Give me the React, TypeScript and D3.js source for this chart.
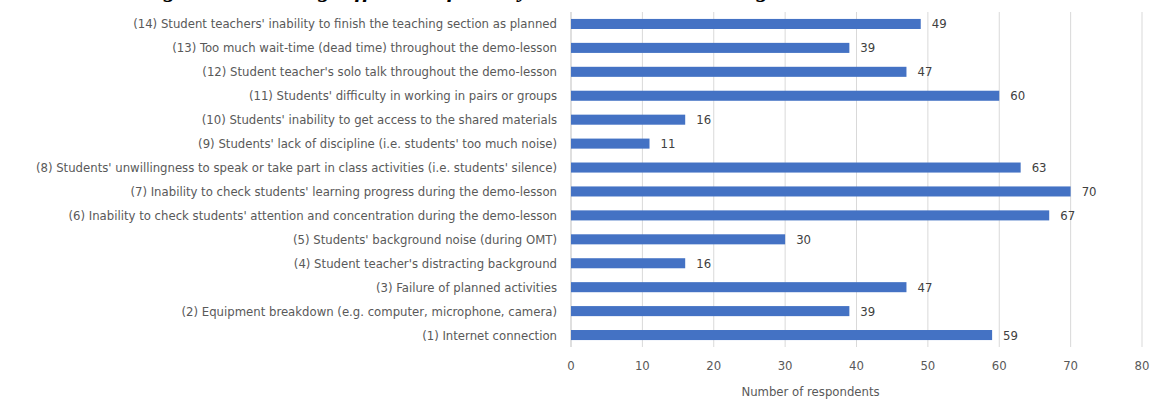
import React from "react";
import * as d3 from "d3";

const categories = [
  "(1) Internet connection",
  "(2) Equipment breakdown (e.g. computer, microphone, camera)",
  "(3) Failure of planned activities",
  "(4) Student teacher's distracting background",
  "(5) Students' background noise (during OMT)",
  "(6) Inability to check students' attention and concentration during the demo-lesson",
  "(7) Inability to check students' learning progress during the demo-lesson",
  "(8) Students' unwillingness to speak or take part in class activities (i.e. students' silence)",
  "(9) Students' lack of discipline (i.e. students' too much noise)",
  "(10) Students' inability to get access to the shared materials",
  "(11) Students' difficulty in working in pairs or groups",
  "(12) Student teacher's solo talk throughout the demo-lesson",
  "(13) Too much wait-time (dead time) throughout the demo-lesson",
  "(14) Student teachers' inability to finish the teaching section as planned",
];
const values = [59, 39, 47, 16, 30, 67, 70, 63, 11, 16, 60, 47, 39, 49];
const xTicks = [0, 10, 20, 30, 40, 50, 60, 70, 80];
const xTitle = "Number of respondents";
const title = "Figure 6. Teaching difficulties faced by student teachers during the demo-lessons in OMT";

export default function App() {
  const W = 1154, H = 400;
  const left = 571, right = 1142, top = 12, bottom = 347;
  const x = d3.scaleLinear().domain([0, 80]).range([left, right]);
  const y = d3.scaleBand<string>().domain([...categories].reverse()).range([top, bottom]).paddingInner(0.58).paddingOuter(0.29);
  const font = "'Liberation Sans Narrow', 'DejaVu Sans Condensed', 'Roboto', sans-serif";
  return (
    <svg width={W} height={H} style={{ position: "absolute", left: 0, top: 0, background: "#fff" }}>
      <text x={585} y={-3} textAnchor="middle" fontFamily="'Liberation Serif', serif" fontWeight="bold" fontStyle="italic" fontSize={24} fill="#000">{title}</text>
      {xTicks.map((t) => (
        <g key={t}>
          <line x1={x(t)} x2={x(t)} y1={top} y2={bottom} stroke={t === 0 ? "#BFBFBF" : "#D9D9D9"} strokeWidth={1} />
          <text x={x(t)} y={370} textAnchor="middle" fontFamily={font} fontSize={13} fill="#595959">{t}</text>
        </g>
      ))}
      {categories.map((c, i) => {
        const yy = y(c)!;
        const bw = y.bandwidth();
        return (
          <g key={c}>
            <rect x={x(0)} y={yy} width={x(values[i]) - x(0)} height={bw} fill="#4472C4" />
            <text x={x(values[i]) + 11} y={yy + bw / 2} dominantBaseline="central" fontFamily={font} fontSize={13} fill="#404040">{values[i]}</text>
            <text x={557} y={yy + bw / 2} dominantBaseline="central" textAnchor="end" fontFamily={font} fontSize={13} fill="#595959">{c}</text>
          </g>
        );
      })}
      <text x={(left + right) / 2 - 46} y={396} textAnchor="middle" fontFamily={font} fontSize={13} fill="#595959">{xTitle}</text>
    </svg>
  );
}
